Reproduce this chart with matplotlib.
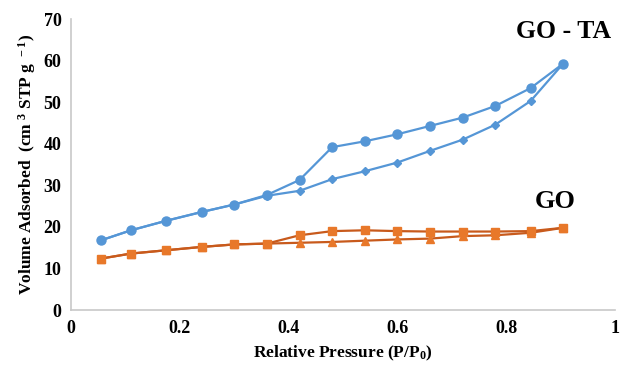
import matplotlib.pyplot as plt

plt.rcParams['font.family'] = ['Liberation Serif', 'DejaVu Serif']
plt.rcParams['font.weight'] = 'bold'
plt.rcParams['mathtext.fontset'] = 'custom'
plt.rcParams['mathtext.rm'] = 'Liberation Serif:bold'
plt.rcParams['mathtext.default'] = 'rm'

# relative pressure points
p = [0.055, 0.11, 0.175, 0.24, 0.30, 0.36, 0.42, 0.48, 0.54, 0.60, 0.66, 0.72, 0.78, 0.845, 0.905]

gota_ads = [16.8, 19.2, 21.5, 23.6, 25.4, 27.5, 28.7, 31.5, 33.4, 35.5, 38.3, 41.0, 44.6, 50.3, 59.3]
gota_des = [16.8, 19.2, 21.5, 23.6, 25.4, 27.7, 31.3, 39.2, 40.6, 42.3, 44.3, 46.3, 49.1, 53.4, 59.3]

go_ads = [12.4, 13.6, 14.4, 15.2, 15.8, 16.0, 16.2, 16.4, 16.7, 17.0, 17.2, 17.8, 18.0, 18.6, 19.8]
go_des = [12.4, 13.6, 14.4, 15.2, 15.8, 16.0, 18.0, 19.0, 19.2, 19.0, 18.9, 18.9, 18.9, 19.0, 19.8]

blue = '#5596D6'
orange_line = '#C85A1C'
orange = '#E8782A'

fig = plt.figure(figsize=(6.3, 3.67), dpi=100)
ax = fig.add_axes([0.113, 0.155, 0.863, 0.793])

ax.plot(p, gota_ads, color=blue, marker='D', markersize=4, lw=1.6)
ax.plot(p, gota_des, color=blue, marker='o', markersize=6.5, lw=1.6)
ax.plot(p, go_ads, color=orange_line, marker='^', markersize=6, lw=1.6,
        markerfacecolor=orange, markeredgecolor=orange)
ax.plot(p, go_des, color=orange_line, marker='s', markersize=6, lw=1.6,
        markerfacecolor=orange, markeredgecolor=orange)

ax.text(0.906, 66.9, 'GO - TA', ha='center', va='center', fontsize=18.5, fontweight='bold')
ax.text(0.891, 26.2, 'GO', ha='center', va='center', fontsize=19, fontweight='bold')

ax.set_xlim(0, 1)
ax.set_ylim(0, 70)
ax.set_xticks([0, 0.2, 0.4, 0.6, 0.8, 1])
ax.set_xticklabels(['0', '0.2', '0.4', '0.6', '0.8', '1'])
ax.set_yticks(range(0, 71, 10))
ax.tick_params(length=0, labelsize=13, pad=7)
for s in ['top', 'right']:
    ax.spines[s].set_visible(False)
for s in ['left', 'bottom']:
    ax.spines[s].set_color('#c8c8c8')
    ax.spines[s].set_linewidth(1.2)

ax.set_xlabel('Relative Pressure (P/P$_0$)', fontsize=12.5, fontweight='bold', labelpad=5)
ax.set_ylabel('Volume Adsorbed  (cm$^{\\ 3}$ STP g$^{\\ -1}$)', fontsize=12.5, fontweight='bold', labelpad=4)

fig.savefig('out.png', dpi=100)
